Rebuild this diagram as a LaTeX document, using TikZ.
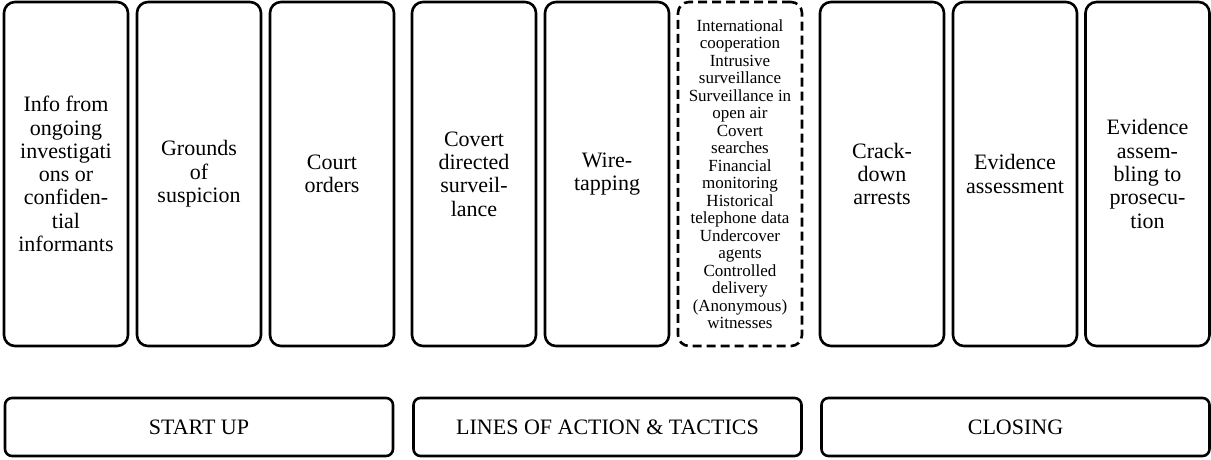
\documentclass[tikz,border=0pt]{standalone}
\usepackage{fontspec}
\setmainfont{Liberation Serif}
\tikzset{
  stage/.style={rectangle, draw, line width=2.6pt, rounded corners=11pt,
    minimum width=124pt, minimum height=344pt, align=center,
    inner sep=2pt, font=\fontsize{22}{23.3}\selectfont},
  tactics/.style={stage, dashed, dash pattern=on 9pt off 5pt,
    font=\fontsize{17}{17.5}\selectfont},
  phase/.style={rectangle, draw, line width=2.6pt, rounded corners=7pt,
    minimum width=388pt, minimum height=58pt,
    font=\fontsize{22}{24}\selectfont}
}
\begin{document}
\begin{tikzpicture}[x=1pt, y=1pt]

\useasboundingbox (0,0) rectangle (1211,459);

% Fase inicial
\node[stage] (S1) at (66,285) {Info from\\ongoing\\investigati\\ons or\\confiden-\\tial\\informants};
\node[stage] (S2) at (199,285) {Grounds\\of\\suspicion};
\node[stage] (S3) at (332,285) {Court\\orders};

% Lineas de accion
\node[stage] (A1) at (474,285) {Covert\\directed\\surveil-\\lance};
\node[stage] (A2) at (607,285) {Wire-\\tapping};
\node[tactics] (A3) at (740,285) {International\\cooperation\\Intrusive\\surveillance\\Surveillance in\\open air\\Covert\\searches\\Financial\\monitoring\\Historical\\telephone data\\Undercover\\agents\\Controlled\\delivery\\(Anonymous)\\witnesses};

% Cierre
\node[stage] (C1) at (882,285) {Crack-\\down\\arrests};
\node[stage] (C2) at (1015,285) {Evidence\\assessment};
\node[stage] (C3) at (1147.5,285) {Evidence\\assem-\\bling to\\prosecu-\\tion};

% Fases
\node[phase] (P1) at (199,32) {START UP};
\node[phase] (P2) at (607.5,32) {LINES OF ACTION \& TACTICS};
\node[phase] (P3) at (1015.5,32) {CLOSING};

\end{tikzpicture}
\end{document}
